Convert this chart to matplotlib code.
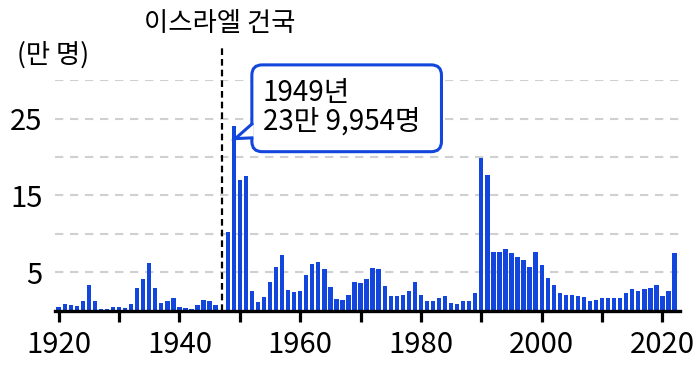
import matplotlib
matplotlib.use('Agg')
import matplotlib.pyplot as plt
import numpy as np
from matplotlib.patches import FancyBboxPatch, Polygon
import matplotlib.transforms as mtransforms

plt.rcParams['font.family'] = ['Noto Sans CJK KR', 'DejaVu Sans']

# immigration to Israel, unit: 10,000 people (1947 not shown)
years = list(range(1920, 1947)) + list(range(1948, 2023))
values = [
    0.52, 0.87, 0.78, 0.65, 1.3, 3.35, 1.3, 0.22, 0.22, 0.44,   # 1920-29
    0.44, 0.31, 0.87, 3.0, 4.1, 6.2, 2.9, 0.96, 1.3, 1.6,       # 1930-39
    0.44, 0.35, 0.22, 0.78, 1.4, 1.22, 0.78,                    # 1940-46
    10.2, 24.0,                                                 # 1948-49
    17.0, 17.5, 2.5, 1.1, 1.8, 3.7, 5.65, 7.25, 2.7, 2.4,       # 1950-59
    2.5, 4.7, 6.1, 6.4, 5.4, 3.1, 1.5, 1.45, 2.05, 3.7,         # 1960-69
    3.6, 4.1, 5.5, 5.4, 3.2, 1.9, 1.9, 2.1, 2.6, 3.7,           # 1970-79
    2.0, 1.2, 1.3, 1.6, 1.9, 0.96, 0.87, 1.3, 1.3, 2.35,        # 1980-89
    19.9, 17.6, 7.7, 7.7, 8.0, 7.55, 7.0, 6.6, 5.65, 7.7,       # 1990-99
    5.95, 4.3, 3.3, 2.26, 2.05, 2.05, 1.9, 1.8, 1.3, 1.4,       # 2000-09
    1.6, 1.6, 1.6, 1.6, 2.35, 2.8, 2.55, 2.8, 3.0, 3.3,         # 2010-19
    1.9, 2.5, 7.5,                                              # 2020-22
]

founding_year = 1947          # dashed marker sits in the gap before 1948
founding_label = '이스라엘 건국'
peak_year = 1949
peak_count = 239954
grid_levels = [5, 10, 15, 20, 25, 30]
ytick_vals = [5, 15, 25]
xtick_vals = list(range(1920, 2021, 10))
xtick_labels = [str(y) if y % 20 == 0 else '' for y in xtick_vals]

blue = '#1246dc'

fig = plt.figure(figsize=(7, 3.75), dpi=100)
ax = fig.add_axes([0.0786, 0.1715, 0.8928, 0.6145])

for g in grid_levels:
    ax.axhline(g, color='#d0d0d0', lw=1.5, ls=(0, (4, 3.2)), zorder=1)

ax.bar(years, values, width=0.72, color=blue, zorder=3)

ax.set_xlim(1919.4, 2022.9)
ax.set_ylim(0, 30)

for s in ['top', 'right', 'left']:
    ax.spines[s].set_visible(False)
ax.spines['bottom'].set_linewidth(2.4)
ax.spines['bottom'].set_zorder(4)

ax.set_xticks(xtick_vals)
ax.set_xticklabels(xtick_labels)
ax.set_yticks(ytick_vals)
ax.set_yticklabels([str(v) for v in ytick_vals])
ax.tick_params(axis='x', length=8, width=2.3, color='black', pad=6, labelsize=21)
ax.tick_params(axis='y', length=0, pad=9, labelsize=21)

# founding line
trans = mtransforms.blended_transform_factory(ax.transData, ax.transAxes)
ax.plot([founding_year, founding_year], [0, 1.14], transform=trans, color='black',
        lw=1.6, ls=(0, (3, 1.8)), clip_on=False, zorder=5)
ax.text(founding_year - 0.4, 1.245, founding_label, transform=trans, ha='center', va='center',
        fontsize=19, clip_on=False)

fig.text(0.024, 0.853, '(만 명)', ha='left', va='center', fontsize=19)

# callout for the peak
peak_val = values[years.index(peak_year)]
tip = (peak_year + 0.25, peak_val - 1.6)
bx0, bx1 = peak_year + 3.0, peak_year + 34.4
by0, by1 = 20.7, 32.0
box = FancyBboxPatch((bx0, by0), bx1 - bx0, by1 - by0,
                     boxstyle='round,pad=0,rounding_size=1.7', mutation_aspect=0.78,
                     facecolor='white', edgecolor=blue, lw=2.2, clip_on=False, zorder=6)
ax.add_patch(box)
tail_top, tail_bot = 24.3, 22.5
ax.add_patch(Polygon([(bx0 + 0.3, tail_top), tip, (bx0 + 0.3, tail_bot)], closed=True,
                     facecolor='white', edgecolor='none', clip_on=False, zorder=7))
ax.plot([bx0, tip[0], bx0], [tail_top, tip[1], tail_bot], color=blue, lw=2.2,
        solid_joinstyle='miter', clip_on=False, zorder=8)

man = peak_count // 10000
rest = peak_count % 10000
ax.text(bx0 + 1.8, 28.3, f'{peak_year}년', fontsize=20, ha='left', va='center', zorder=9)
ax.text(bx0 + 1.8, 24.6, f'{man}만 {rest:,}명', fontsize=20, ha='left', va='center', zorder=9)

fig.savefig('out.png', dpi=100)
